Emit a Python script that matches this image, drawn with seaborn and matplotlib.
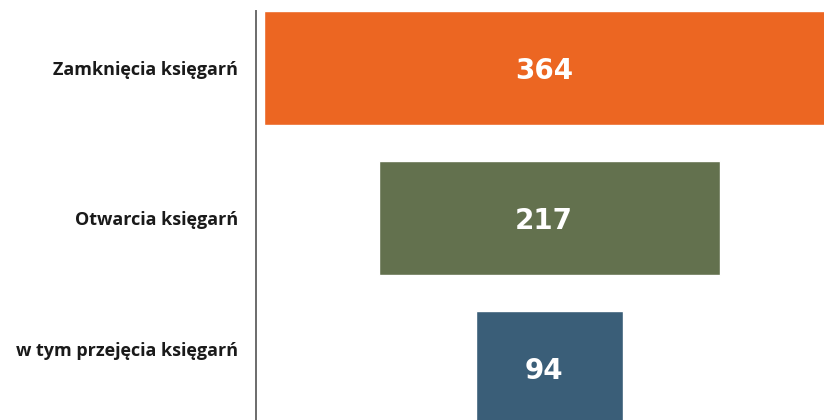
import matplotlib
matplotlib.use("Agg")
import matplotlib.pyplot as plt
import matplotlib.transforms as mtransforms
import seaborn as sns
import pandas as pd

categories = ["Zamknięcia księgarń", "Otwarcia księgarń", "w tym przejęcia księgarń"]
values = [364, 217, 94]
colors = ["#EC6622", "#63714E", "#3A5E78"]

sns.set_theme(style="white")
plt.rcParams["font.family"] = ["Open Sans", "DejaVu Sans"]

df = pd.DataFrame({"kategoria": categories, "liczba": values})

fig = plt.figure(figsize=(8.24, 4.2), dpi=100)
ax = fig.add_axes([256 / 824, 0.0, 1 - 256 / 824, (420 - 11) / 420])

sns.barplot(data=df, x="liczba", y="kategoria", hue="kategoria",
            palette=colors, orient="h", width=0.76, legend=False, ax=ax,
            saturation=1)

# centre each bar around a common axis to form a funnel
center = 186.8
for patch in ax.patches:
    w = patch.get_width()
    patch.set_x(center - w / 2)

for i, v in enumerate(values):
    ax.text(center - 3.5, i + 0.02, f"{v}", ha="center", va="center",
            color="white", fontsize=20, fontweight="heavy",
            family=["DejaVu Sans"])

ax.set_xlim(0, 568 / 1.571)
ax.set_ylim(-0.38 + 409 / 150, -0.38)
ax.set_xlabel("")
ax.set_ylabel("")
ax.set_xticks([])

for sp in ["top", "right", "bottom"]:
    ax.spines[sp].set_visible(False)
ax.spines["left"].set_color("#6b6b6b")
ax.spines["left"].set_linewidth(1.4)

ax.tick_params(axis="y", length=0, pad=13)
for lbl in ax.get_yticklabels():
    lbl.set_fontweight("bold")
    lbl.set_fontsize(13)
    lbl.set_color("#1a1a1a")
labels = ax.get_yticklabels()
labels[2].set_transform(labels[2].get_transform() +
                        mtransforms.ScaledTranslation(0, 0.19, fig.dpi_scale_trans))

fig.savefig("out.png", dpi=100)
